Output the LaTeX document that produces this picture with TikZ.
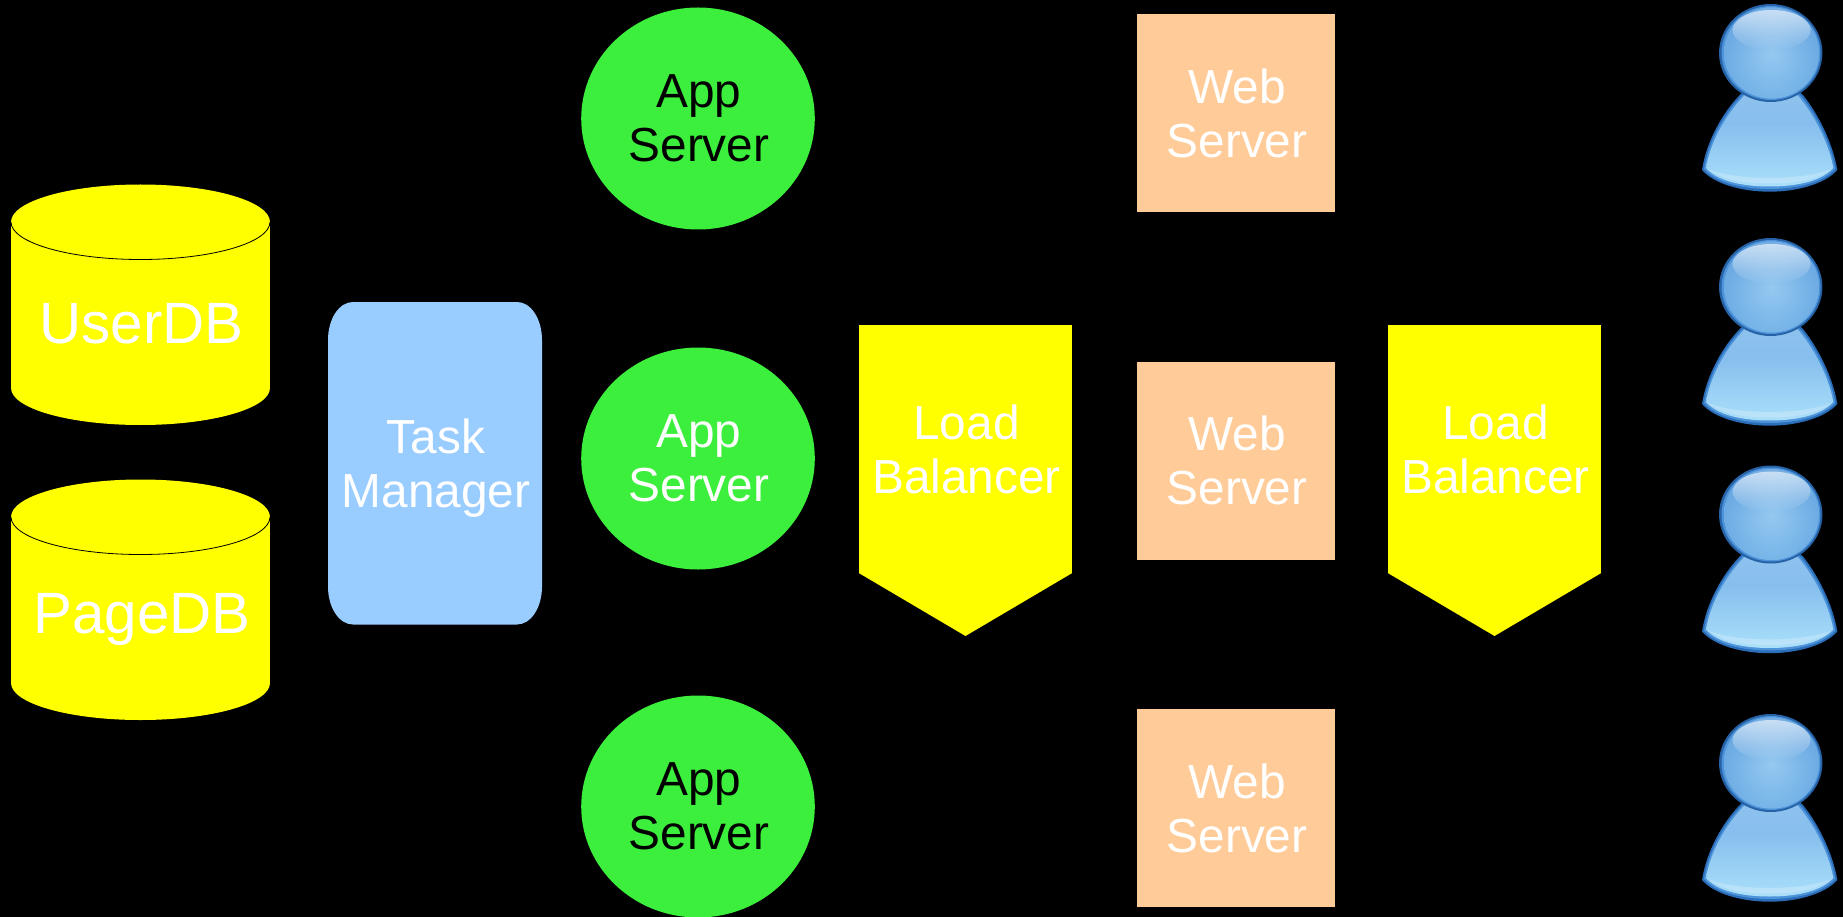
\documentclass[tikz,border=0pt]{standalone}
\usepackage{fontspec}
\setmainfont{Liberation Sans}
\usetikzlibrary{shapes.geometric,fadings}
\definecolor{appgreen}{HTML}{3DEF3D}
\definecolor{webpeach}{HTML}{FFCC99}
\definecolor{taskblue}{HTML}{99CCFF}
\definecolor{dbyellow}{HTML}{FFFF00}
\definecolor{rimblue}{HTML}{2A6DB8}
\definecolor{rimsoft}{HTML}{4C93DA}
\definecolor{hA}{HTML}{CFF5FF}
\definecolor{hB}{HTML}{BDEBFD}
\definecolor{hC}{HTML}{9CD0F4}
\definecolor{hD}{HTML}{90C4EE}
\definecolor{hE}{HTML}{BCD8F2}
\definecolor{hF}{HTML}{E0ECF8}
\definecolor{bA}{HTML}{DDF7FF}
\definecolor{bB}{HTML}{C8F1FF}
\definecolor{bC}{HTML}{A4DAF8}
\definecolor{bD}{HTML}{86BEEE}
\definecolor{bE}{HTML}{94C5EE}
\definecolor{bF}{HTML}{C4DBF2}
\pgfdeclareverticalshading{headsh}{100bp}{
  color(0bp)=(hA); color(12bp)=(hB); color(35bp)=(hC);
  color(60bp)=(hD); color(88bp)=(hE); color(100bp)=(hF)}
\pgfdeclareverticalshading{bodysh}{100bp}{
  color(0bp)=(bA); color(10bp)=(bB); color(30bp)=(bC);
  color(55bp)=(bD); color(80bp)=(bE); color(100bp)=(bF)}
\tikzfading[name=edgefade,inner color=transparent!100,middle color=transparent!96,outer color=transparent!45]
\newcommand{\nudge}{\hspace*{2pt}}
\tikzset{
  x=1pt,y=-1pt,
  boxed/.style={inner sep=0pt,outer sep=0pt,align=center,text=white,font=\fontsize{47.8}{54}\selectfont},
  dbtext/.style={inner sep=0pt,outer sep=0pt,text=white,font=\fontsize{58.3}{60}\selectfont},
  appnode/.style={boxed,ellipse,fill=appgreen,minimum width=233.6pt,minimum height=222pt},
  webnode/.style={boxed,rectangle,fill=webpeach,minimum width=198pt,minimum height=198pt},
  lbnode/.style={boxed,rectangle,fill=dbyellow,minimum width=213.5pt,minimum height=248pt},
  dbfill/.style={fill=dbyellow},
  usericon/.pic={
    \fill[rimblue] (37.7,91) .. controls (15,115) and (3,145) .. (0,166)
      .. controls (12,180) and (40,187.7) .. (67.7,187.7)
      .. controls (95,187.7) and (123,180) .. (135.3,166)
      .. controls (132,145) and (120,115) .. (101,91)
      .. controls (85,75) and (52,75) .. cycle;
    \fill[rimsoft] (39,92.5) .. controls (16.5,116.5) and (5,145) .. (2,165)
      .. controls (13,178.5) and (40,185) .. (67.7,185)
      .. controls (95,185) and (121.5,178.5) .. (133.3,165)
      .. controls (130,145) and (118.5,116.5) .. (99.5,92.5)
      .. controls (85,76.5) and (52,76.5) .. cycle;
    \shade[shading=bodysh] (40,94) .. controls (18,118) and (7,145) .. (4,164)
      .. controls (15,177) and (40,182.5) .. (67.7,182.5)
      .. controls (95,182.5) and (120,177) .. (131.3,164)
      .. controls (128,145) and (117,118) .. (98,94)
      .. controls (85,78) and (52,78) .. cycle;
    \fill[white,opacity=.22] (6,165) .. controls (18,175) and (40,179.5) .. (67.7,179.5)
      .. controls (95,179.5) and (118,175) .. (129,165)
      .. controls (115,171) and (90,174) .. (67.7,174)
      .. controls (45,174) and (20,171) .. cycle;
    \fill[rimblue!90!black] (68.7,49) ellipse[x radius=51.7,y radius=49];
    \fill[rimsoft] (69,49) ellipse[x radius=49.5,y radius=47];
    \shade[shading=headsh] (69.5,49) ellipse[x radius=47.5,y radius=45.5];
    \fill[rimsoft,path fading=edgefade] (69.5,49) ellipse[x radius=47.5,y radius=45.5];
    \fill[white,path fading=south,opacity=.6] (69.5,26) ellipse[x radius=39,y radius=20];
  }
}
\begin{document}
\begin{tikzpicture}
\useasboundingbox (0,0) rectangle (1843,917);
\fill[black] (0,0) rectangle (1843,917);

% databases
\fill[dbfill] (140.5,222) ellipse[x radius=129.5,y radius=37.5];
\fill[dbfill] (11,222) rectangle (270,388);
\fill[dbfill] (140.5,388) ellipse[x radius=129.5,y radius=37];
\draw[black,line width=.8pt] (11,222) arc[start angle=180,end angle=0,x radius=129.5,y radius=37.5];
\node[dbtext] (userdb) at (141.5,323.5) {UserDB};

\fill[dbfill] (140.5,517) ellipse[x radius=129.5,y radius=37.5];
\fill[dbfill] (11,517) rectangle (270,683);
\fill[dbfill] (140.5,683) ellipse[x radius=129.5,y radius=37];
\draw[black,line width=.8pt] (11,517) arc[start angle=180,end angle=0,x radius=129.5,y radius=37.5];
\node[dbtext] (pagedb) at (142,619.5) {PageDB};

% task manager
\fill[taskblue] (353,302) -- (517,302) .. controls (531,302) and (542,319) .. (542,340)
  -- (542,586.5) .. controls (542,607.5) and (531,624.5) .. (517,624.5)
  -- (353,624.5) .. controls (339,624.5) and (328,607.5) .. (328,586.5)
  -- (328,340) .. controls (328,319) and (339,302) .. (353,302) -- cycle;
\node[boxed] (task) at (436,468) {Task\\Manager};

% app servers
\node[appnode,text=black] (app1) at (698,118.5) {\nudge App\\\nudge Server};
\node[appnode] (app2) at (698,458.5) {\nudge App\\\nudge Server};
\node[appnode,text=black] (app3) at (698,806.5) {\nudge App\\\nudge Server};

% load balancers
\node[lbnode] (lb1) at (965.5,449) {\nudge Load\\\nudge Balancer};
\fill[dbyellow] (lb1.south west) -- (lb1.south east) -- (965.5,636) -- cycle;
\node[lbnode] (lb2) at (1494.5,449) {\nudge Load\\\nudge Balancer};
\fill[dbyellow] (lb2.south west) -- (lb2.south east) -- (1494.5,636) -- cycle;

% web servers
\node[webnode] (web1) at (1236,113) {\nudge Web\\\nudge Server};
\node[webnode] (web2) at (1236,460.5) {\nudge Web\\\nudge Server};
\node[webnode] (web3) at (1236,808) {\nudge Web\\\nudge Server};

% users
\pic at (1702,4) {usericon};
\pic at (1702,238) {usericon};
\pic at (1702,465.5) {usericon};
\pic at (1702,714) {usericon};
\end{tikzpicture}
\end{document}
